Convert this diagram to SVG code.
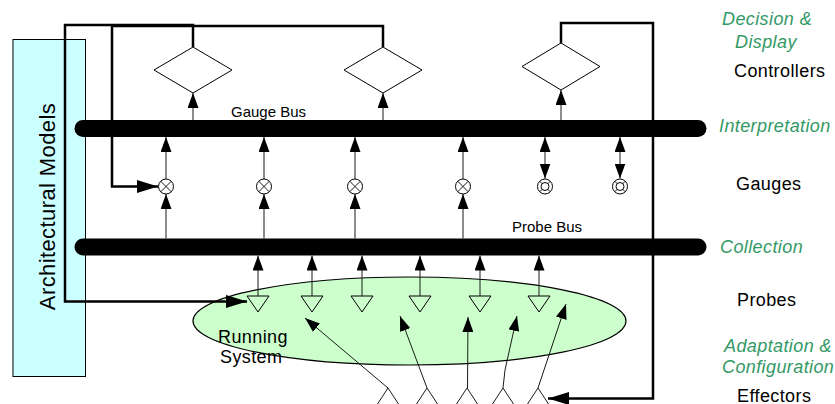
<svg xmlns="http://www.w3.org/2000/svg" width="835" height="404" viewBox="0 0 835 404">
<defs>
<style>
.thin{fill:none;stroke:#1a1a1a;stroke-width:1}
.thick{fill:none;stroke:#000;stroke-width:2.5}
.bus{fill:none;stroke:#000;stroke-width:17;stroke-linecap:round}
.dia{fill:#fff;stroke:#000;stroke-width:1}
.gauge{fill:#fff;stroke:#000;stroke-width:1}
.probe{fill:#ccffcc;stroke:#000;stroke-width:1}
.lbl{font-family:"Liberation Sans",Arial,sans-serif;font-size:18px;letter-spacing:0.4px;fill:#000}
.grn{font-family:"Liberation Sans",Arial,sans-serif;font-size:18px;letter-spacing:0.4px;font-style:italic;fill:#339966}
.bl{font-family:"Liberation Sans",Arial,sans-serif;font-size:15px;fill:#000}
</style>
<marker id="ah" markerUnits="userSpaceOnUse" markerWidth="15" markerHeight="11" refX="15" refY="5.5" orient="auto-start-reverse"><path d="M0,0 L15,5.5 L0,11 z" fill="#000"/></marker>
<marker id="bh" markerUnits="userSpaceOnUse" markerWidth="21" markerHeight="13" refX="21" refY="6.5" orient="auto"><path d="M0,0 L21,6.5 L0,13 z" fill="#000"/></marker>
</defs>
<rect width="835" height="404" fill="#fff"/>

<g id="arch-models">
<rect x="13" y="39.5" width="72.5" height="337" fill="#ccffff" stroke="#000" stroke-width="1"/>
<text class="lbl" style="font-size:22px" x="55" y="206.5" text-anchor="middle" transform="rotate(-90 55 206.5)">Architectural Models</text>
</g>

<g id="running-system">
<ellipse cx="409.5" cy="321" rx="216.5" ry="44" fill="#ccffcc" stroke="#000" stroke-width="1.2"/>
<text class="lbl" x="218" y="343">Running</text>
<text class="lbl" x="220" y="363">System</text>
</g>

<g id="gauge-bus">
<line class="bus" x1="83" y1="128.5" x2="698" y2="128.5"/>
<text class="bl" x="231" y="117">Gauge Bus</text>
</g>
<g id="probe-bus">
<line class="bus" x1="83" y1="247" x2="698" y2="247"/>
<text class="bl" x="512" y="232">Probe Bus</text>
</g>

<g id="controllers">
<polygon class="dia" points="193,47 232,70 193,93 154,70"/>
<polygon class="dia" points="383,47 422,70 383,93 344,70"/>
<polygon class="dia" points="561,43 600,66.5 561,90 522,66.5"/>
</g>

<g id="gauges">
<g class="gx"><circle class="gauge" cx="166" cy="186.5" r="7.5"/><path class="thin" d="M160.7,181.2 L171.3,191.8 M171.3,181.2 L160.7,191.8"/></g>
<g class="gx"><circle class="gauge" cx="264" cy="186.5" r="7.5"/><path class="thin" d="M258.7,181.2 L269.3,191.8 M269.3,181.2 L258.7,191.8"/></g>
<g class="gx"><circle class="gauge" cx="355" cy="186.5" r="7.5"/><path class="thin" d="M349.7,181.2 L360.3,191.8 M360.3,181.2 L349.7,191.8"/></g>
<g class="gx"><circle class="gauge" cx="463" cy="186.5" r="7.5"/><path class="thin" d="M457.7,181.2 L468.3,191.8 M468.3,181.2 L457.7,191.8"/></g>
<g class="gl"><circle class="gauge" cx="545" cy="186.5" r="7.5"/><circle class="gauge" cx="545" cy="186.5" r="4"/><path class="thin" d="M539.7,181.2 L542.2,183.7 M550.3,181.2 L547.8,183.7 M539.7,191.8 L542.2,189.3 M550.3,191.8 L547.8,189.3"/></g>
<g class="gl"><circle class="gauge" cx="620" cy="186.5" r="7.5"/><circle class="gauge" cx="620" cy="186.5" r="4"/><path class="thin" d="M614.7,181.2 L617.2,183.7 M625.3,181.2 L622.8,183.7 M614.7,191.8 L617.2,189.3 M625.3,191.8 L622.8,189.3"/></g>
</g>

<g id="probes">
<polygon class="probe" points="247,296 269,296 258,312"/>
<polygon class="probe" points="301,296 323,296 312,312"/>
<polygon class="probe" points="351,296 373,296 362,312"/>
<polygon class="probe" points="409,296 431,296 420,312"/>
<polygon class="probe" points="469,296 491,296 480,312"/>
<polygon class="probe" points="528,296 550,296 539,312"/>
</g>

<g id="effectors">
<path class="thin" d="M377.5,404 L388,388 L398.5,404"/>
<path class="thin" d="M416.5,404 L427,388 L437.5,404"/>
<path class="thin" d="M456.5,404 L467,388 L477.5,404"/>
<path class="thin" d="M492.5,404 L503,388 L513.5,404"/>
<path class="thin" d="M527.5,404 L538,388 L548.5,404"/>
</g>

<g id="connectors">
<!-- gauge bus to controllers -->
<line class="thin" x1="193" y1="120" x2="193" y2="93" marker-end="url(#ah)"/>
<line class="thin" x1="383" y1="120" x2="383" y2="93" marker-end="url(#ah)"/>
<line class="thin" x1="561" y1="120" x2="561" y2="90" marker-end="url(#ah)"/>
<!-- gauges to gauge bus -->
<line class="thin" x1="166" y1="179" x2="166" y2="137" marker-end="url(#ah)"/>
<line class="thin" x1="264" y1="179" x2="264" y2="137" marker-end="url(#ah)"/>
<line class="thin" x1="355" y1="179" x2="355" y2="137" marker-end="url(#ah)"/>
<line class="thin" x1="463" y1="179" x2="463" y2="137" marker-end="url(#ah)"/>
<line class="thin" x1="545" y1="178.5" x2="545" y2="137" marker-start="url(#ah)" marker-end="url(#ah)"/>
<line class="thin" x1="620" y1="178.5" x2="620" y2="137" marker-start="url(#ah)" marker-end="url(#ah)"/>
<!-- probe bus to gauges -->
<line class="thin" x1="166" y1="238.5" x2="166" y2="194" marker-end="url(#ah)"/>
<line class="thin" x1="264" y1="238.5" x2="264" y2="194" marker-end="url(#ah)"/>
<line class="thin" x1="355" y1="238.5" x2="355" y2="194" marker-end="url(#ah)"/>
<line class="thin" x1="463" y1="238.5" x2="463" y2="194" marker-end="url(#ah)"/>
<!-- probes to probe bus -->
<line class="thin" x1="258" y1="296" x2="258" y2="255.5" marker-end="url(#ah)"/>
<line class="thin" x1="312" y1="296" x2="312" y2="255.5" marker-end="url(#ah)"/>
<line class="thin" x1="362" y1="296" x2="362" y2="255.5" marker-end="url(#ah)"/>
<line class="thin" x1="420" y1="296" x2="420" y2="255.5" marker-end="url(#ah)"/>
<line class="thin" x1="480" y1="296" x2="480" y2="255.5" marker-end="url(#ah)"/>
<line class="thin" x1="539" y1="296" x2="539" y2="255.5" marker-end="url(#ah)"/>
<!-- effectors into running system -->
<line class="thin" x1="388" y1="388" x2="305" y2="318" marker-end="url(#ah)"/>
<line class="thin" x1="427" y1="388" x2="400" y2="316" marker-end="url(#ah)"/>
<line class="thin" x1="467.5" y1="388" x2="468" y2="317" marker-end="url(#ah)"/>
<polyline class="thin" points="503,388 505,370 517,316" marker-end="url(#ah)"/>
<line class="thin" x1="538" y1="388" x2="566" y2="304" marker-end="url(#ah)"/>
<!-- feedback loops -->
<polyline class="thick" points="193,47 193,25 65,25 65,301.5 247,301.5" marker-end="url(#bh)"/>
<polyline class="thick" points="383,47 383,26 112,26 112,186.5 158,186.5" marker-end="url(#bh)"/>
<polyline class="thick" points="561,43 561,23 653,23 653,398.5 548,398.5" marker-end="url(#bh)"/>
</g>

<g id="layer-labels">
<text class="grn" x="722" y="25">Decision &amp;</text>
<text class="grn" x="735" y="48">Display</text>
<text class="lbl" x="734" y="77">Controllers</text>
<text class="grn" x="719" y="132">Interpretation</text>
<text class="lbl" x="736" y="190">Gauges</text>
<text class="grn" x="720" y="252.5">Collection</text>
<text class="lbl" x="737" y="306">Probes</text>
<text class="grn" x="724" y="352">Adaptation &amp;</text>
<text class="grn" x="722" y="372.5">Configuration</text>
<text class="lbl" x="737" y="401.5">Effectors</text>
</g>
</svg>
